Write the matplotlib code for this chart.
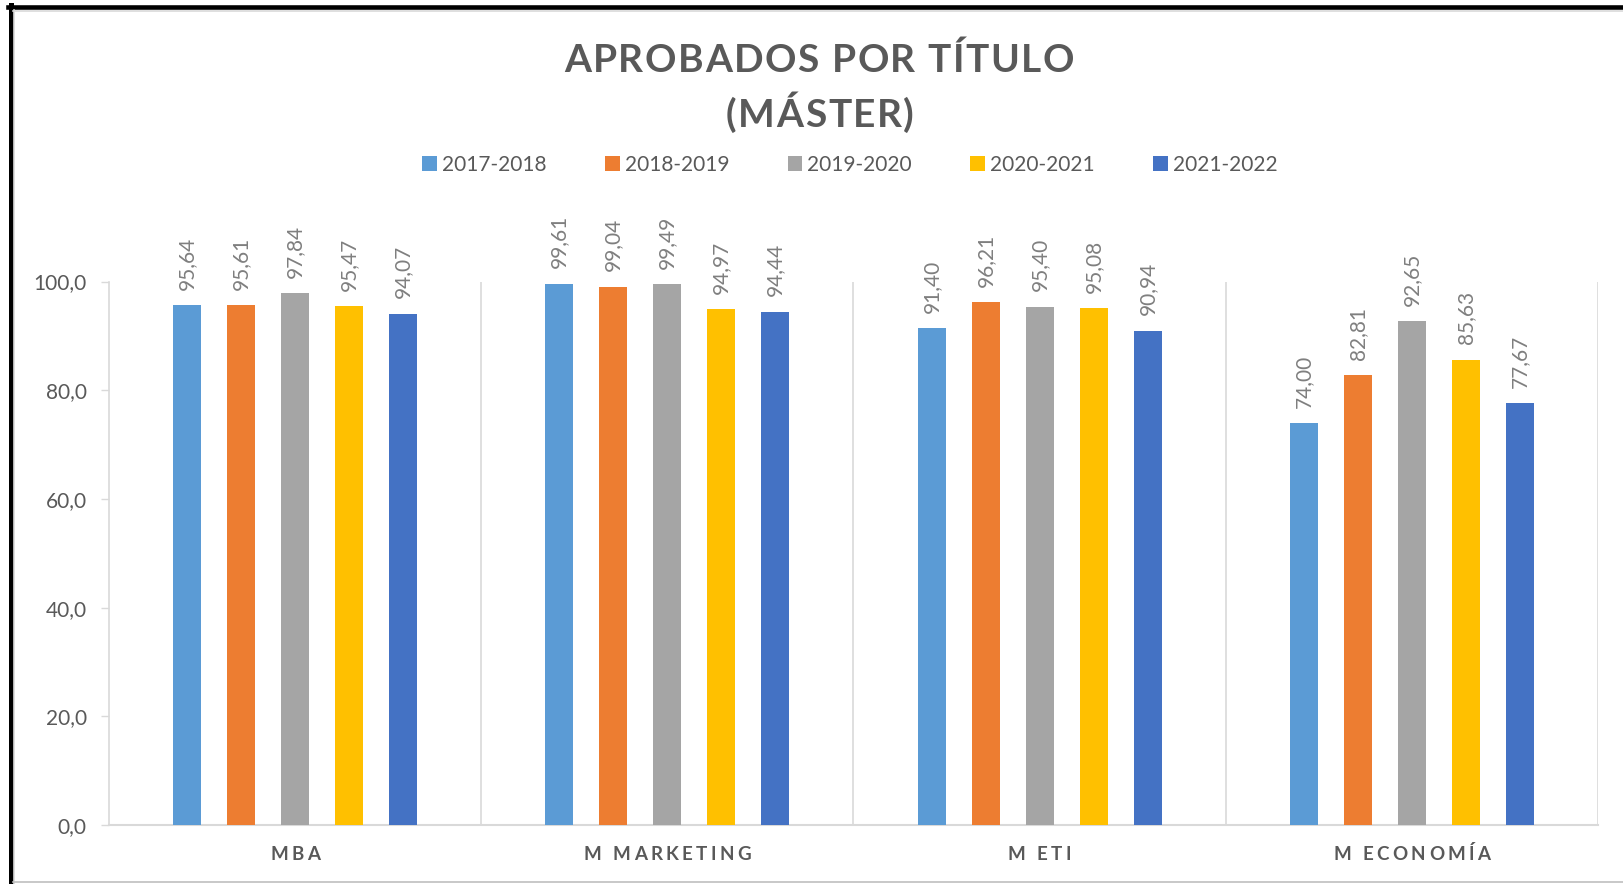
import numpy as np
import matplotlib
matplotlib.use("Agg")
import matplotlib.pyplot as plt
from matplotlib.lines import Line2D
from matplotlib.ticker import FuncFormatter
from matplotlib.font_manager import FontProperties, findfont
from matplotlib.ft2font import FT2Font

W, H, DPI = 1624, 884, 100
FONT = "Lato"
GREY = "#595959"
LABEL_GREY = "#7F7F7F"
LINE_GREY = "#D9D9D9"

# data
categories = ["MBA", "M MARKETING", "M ETI", "M ECONOMÍA"]
years = ["2017-2018", "2018-2019", "2019-2020", "2020-2021", "2021-2022"]
v_2017 = [95.64, 99.61, 91.40, 74.00]
v_2018 = [95.61, 99.04, 96.21, 82.81]
v_2019 = [97.84, 99.49, 95.40, 92.65]
v_2020 = [95.47, 94.97, 95.08, 85.63]
v_2021 = [94.07, 94.44, 90.94, 77.67]
series = [v_2017, v_2018, v_2019, v_2020, v_2021]
colors = ["#5B9BD5", "#ED7D31", "#A5A5A5", "#FFC000", "#4472C4"]
yticks = [0, 20, 40, 60, 80, 100]

plt.rcParams["font.family"] = [FONT, "DejaVu Sans"]

fig = plt.figure(figsize=(W / DPI, H / DPI), dpi=DPI)


def spaced_text(x, y, s, size, weight="normal", width=None, track=None):
    # draw text char by char so we get excel-like letter spacing (x, y in px from top-left)
    fp = FontProperties(family=FONT, weight=weight, size=size)
    ft = FT2Font(findfont(fp))
    ft.set_size(size, DPI)
    adv = [ft.load_char(ord(c)).linearHoriAdvance / 65536 for c in s]
    if track is None:
        track = (width - sum(adv)) / (len(s) - 1)
    cx = x - (sum(adv) + track * (len(s) - 1)) / 2
    for c, a in zip(s, adv):
        fig.text(cx / W, 1 - y / H, c, fontproperties=fp, color=GREY,
                 ha="left", va="baseline")
        cx += a + track
    return track


# frame of the screenshot
fig.add_artist(Line2D([10.7 / W, 10.7 / W], [0, 1 - 5 / H], transform=fig.transFigure,
                      color="black", lw=3.6))
fig.add_artist(Line2D([8.3 / W, 1], [1 - 7.2 / H, 1 - 7.2 / H], transform=fig.transFigure,
                      color="black", lw=3.3))
fig.add_artist(Line2D([14 / W, 14 / W], [0, 1 - 10 / H], transform=fig.transFigure,
                      color=LINE_GREY, lw=1.2))
fig.add_artist(Line2D([13 / W, 1], [1 - 10.5 / H, 1 - 10.5 / H], transform=fig.transFigure,
                      color=LINE_GREY, lw=1.2))
fig.add_artist(Line2D([13 / W, 1], [1 - 882 / H, 1 - 882 / H], transform=fig.transFigure,
                      color="#BFBFBF", lw=1.2))

# plot area
x0, x1, ytop, ybot = 109, 1598, 281.5, 825
ax = fig.add_axes([x0 / W, 1 - ybot / H, (x1 - x0) / W, (ybot - ytop) / H])

x = np.arange(len(categories))
bw = 0.0752
step = 0.145
for k, (vals, col, yr) in enumerate(zip(series, colors, years)):
    bars = ax.bar(x + (k - 2) * step, vals, bw, color=col, label=yr, zorder=3)
    ax.bar_label(bars, labels=[f"{v:.2f}".replace(".", ",") for v in vals],
                 padding=11, rotation=90, color=LABEL_GREY, fontsize=15)

ax.set_xlim(-0.5, len(categories) - 0.5)
ax.set_ylim(0, 100)
ax.vlines(x[:-1] + 0.5, 0, 100, color=LINE_GREY, lw=1.2, zorder=1)
ax.vlines([len(categories) - 0.5], 0, 100, color=LINE_GREY, lw=1.2, zorder=1)

ax.set_yticks(yticks)
ax.yaxis.set_major_formatter(FuncFormatter(lambda v, p: f"{v:.1f}".replace(".", ",")))
ax.tick_params(axis="y", direction="out", length=6, width=1, color=LINE_GREY,
               labelcolor=GREY, labelsize=15, pad=10)
ax.set_xticks([])
for s in ["top", "right"]:
    ax.spines[s].set_visible(False)
ax.spines["left"].set_color(LINE_GREY)
ax.spines["left"].set_linewidth(1.2)
ax.spines["bottom"].set_color(LINE_GREY)
ax.spines["bottom"].set_linewidth(1.5)

# category labels, letter spaced
for i, cat in enumerate(categories):
    cx = ax.transData.transform((x[i], 0))[0]
    spaced_text(cx, 860, cat, 13.5, "bold", track=3.4)

# title
t = spaced_text(819, 71.7, "APROBADOS POR TÍTULO", 28, "bold", width=510)
spaced_text(820, 126.7, "(MÁSTER)", 28, "bold", track=t)

# legend
fig.legend(loc="center", bbox_to_anchor=(850 / W, 1 - 165 / H), ncol=5, frameon=False,
           fontsize=15, labelcolor=GREY, handlelength=0.7, handleheight=0.7,
           handletextpad=0.25, columnspacing=2.8, borderaxespad=0)

fig.savefig("out.png", dpi=DPI)
